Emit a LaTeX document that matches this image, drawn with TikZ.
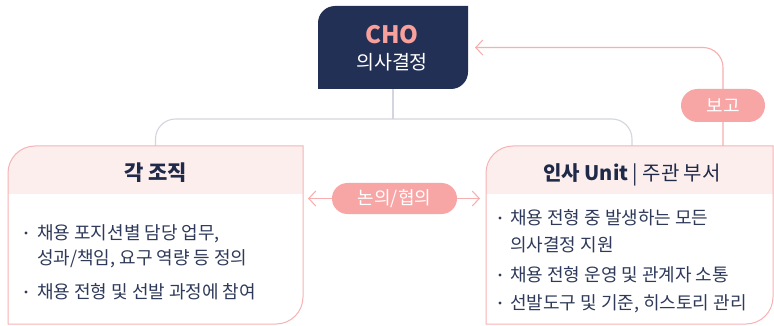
\documentclass[tikz,border=0pt]{standalone}
\usepackage{fontspec}
\setmainfont{Noto Sans CJK KR}
\usetikzlibrary{arrows.meta,calc}
\definecolor{navy}{HTML}{233056}
\definecolor{chopink}{HTML}{F8A09B}
\definecolor{pinkborder}{HTML}{F7B3B3}
\definecolor{headfill}{HTML}{FDEEEE}
\definecolor{pillpink}{HTML}{F8A5A5}
\definecolor{bodycol}{HTML}{2F3A5A}
\definecolor{headcol}{HTML}{1F2A48}
\definecolor{graylinecol}{HTML}{D3D6DE}
\definecolor{redlinecol}{HTML}{F7AFAF}
\newcommand\tlbrpath[2]{(#1.south west) -- ([yshift=-#2]#1.north west) arc[start angle=180,end angle=90,radius=#2] -- (#1.north east) -- ([yshift=#2]#1.south east) arc[start angle=0,end angle=-90,radius=#2] -- cycle}
\begin{document}
\begin{tikzpicture}[x=1pt,y=1pt,
  area/.style={inner sep=0pt, outer sep=0pt, draw=none},
  bodytext/.style={inner sep=0pt, anchor=base west, text=bodycol, font=\fontsize{18}{22}\selectfont},
  headtext/.style={inner sep=0pt, anchor=base, text=headcol, font=\fontsize{20}{24}\selectfont},
  dotb/.style={circle, fill=bodycol, inner sep=0pt, minimum size=3.4pt},
  pill/.style={fill=pillpink, text=white, inner sep=0pt, font=\fontsize{18}{21}\selectfont},
  treeline/.style={draw=graylinecol, line width=1.1pt},
  redline/.style={draw=redlinecol, line width=1.1pt},
  tip/.style={-{Straight Barb[length=7pt,width=15pt,line width=1.1pt]}}]
\fill[white] (0,0) rectangle (774,-326);
\useasboundingbox (0,0) rectangle (774,-326);
% areas
\node[area, minimum width=150pt, minimum height=83pt] (cho) at (393,-47.5) {};
\node[area, minimum width=295pt, minimum height=178pt] (left) at (155.5,-235) {};
\node[area, minimum width=287pt, minimum height=178pt] (right) at (629.5,-235) {};
% tree lines
\coordinate (junc) at (393,-119);
\draw[treeline] (cho.south) -- (junc);
\draw[treeline, rounded corners=20pt] (junc) -| (left.north);
\draw[treeline, rounded corners=20pt] (junc) -| ([xshift=2.5pt]right.north);
% CHO box
\fill[navy] \tlbrpath{cho}{17pt};
\node[inner sep=0pt, anchor=base, text=chopink, font=\bfseries\fontsize{24}{28}\selectfont] (chot) at (392,-44) {CHO};
\node[inner sep=0pt, anchor=base, text=white, font=\fontsize{19.5}{23}\selectfont] (chosub) at (392,-69.5) {의사결정};
% left box
\fill[white] \tlbrpath{left}{27pt};
\begin{scope}
\clip \tlbrpath{left}{27pt};
\fill[headfill] (left.north west) rectangle ($(left.north east)+(0,-48)$);
\end{scope}
\draw[pinkborder, line width=1pt] \tlbrpath{left}{27pt};
% right box
\fill[white] \tlbrpath{right}{27pt};
\begin{scope}
\clip \tlbrpath{right}{27pt};
\fill[headfill] (right.north west) rectangle ($(right.north east)+(0,-48)$);
\end{scope}
\draw[pinkborder, line width=1pt] \tlbrpath{right}{27pt};
% headers
\node[headtext, font=\bfseries\fontsize{21}{25}\selectfont] (lhead) at (155.5,-181) {각 조직};
\node[headtext] (rhead) at (632,-181) {\textbf{인사 Unit} | 주관 부서};
% left bullets
\node[dotb] (lb1) at (26,-233) {};
\node[bodytext] (lt1) at (37,-239.5) {채용 포지션별 담당 업무,};
\node[bodytext] (lt2) at (37,-264.5) {성과/책임, 요구 역량 등 정의};
\node[dotb] (lb2) at (26,-292) {};
\node[bodytext] (lt3) at (37,-298.5) {채용 전형 및 선발 과정에 참여};
% right bullets
\node[dotb] (rb1) at (500,-218) {};
\node[bodytext] (rt1) at (510,-224.5) {채용 전형 중 발생하는 모든};
\node[bodytext] (rt2) at (510,-251.5) {의사결정 지원};
\node[dotb] (rb2) at (500,-275) {};
\node[bodytext] (rt3) at (510,-281.5) {채용 전형 운영 및 관계자 소통};
\node[dotb] (rb3) at (500,-303) {};
\node[bodytext] (rt4) at (510,-309.5) {선발도구 및 기준, 히스토리 관리};
% report line
\coordinate (rep) at (723,-146);
\draw[redline, tip, rounded corners=20pt, shorten >=7pt] (rep) |- (cho.east);
\node[pill, rounded corners=16.5pt, minimum width=84pt, minimum height=33pt] (bogo) at (723,-105.5) {보고};
% discussion
\node[pill, rounded corners=15.5pt, minimum width=125pt, minimum height=31pt] (nonui) at (394.5,-198.5) {논의/협의};
\draw[redline, tip, shorten >=5pt] (nonui.west) -- (nonui.west -| left.east);
\draw[redline, tip, shorten >=6pt] (nonui.east) -- (nonui.east -| right.west);
\end{tikzpicture}
\end{document}
